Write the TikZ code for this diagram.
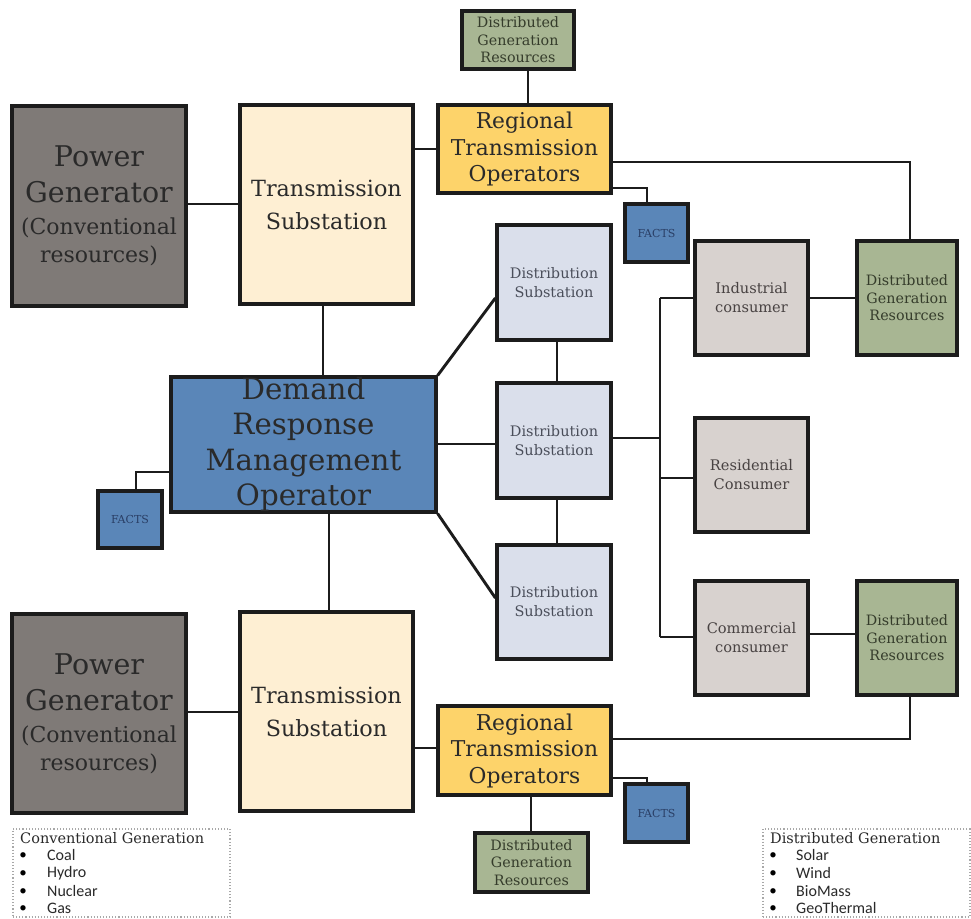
\documentclass[tikz,border=0pt]{standalone}
\usepackage{fontspec}
\setmainfont{DejaVu Serif}
\newfontfamily\carlito{Carlito}
\definecolor{pgfill}{HTML}{7F7A77}
\definecolor{tsfill}{HTML}{FEEFD3}
\definecolor{rtofill}{HTML}{FDD36A}
\definecolor{dgrfill}{HTML}{A8B693}
\definecolor{factsfill}{HTML}{5A86B8}
\definecolor{dsfill}{HTML}{DADFEB}
\definecolor{confill}{HTML}{D8D2CF}
\definecolor{edge}{HTML}{1C1C1C}
\definecolor{txtdark}{HTML}{2A2A2A}
\definecolor{txtds}{HTML}{4A4E5A}
\definecolor{txtcon}{HTML}{484242}
\definecolor{txtdgr}{HTML}{353C2B}
\definecolor{txtfacts}{HTML}{2A3F66}
\definecolor{legline}{HTML}{A8A8A8}
\newcommand{\pgbig}{\fontsize{28.5}{36}\selectfont}
\newcommand{\pgsmall}{\fontsize{22}{27}\selectfont}
\tikzset{
  box/.style={draw=edge, line width=3.2pt, inner sep=0pt, align=center, anchor=center},
  wire/.style={line width=2.9pt, draw=edge, line join=miter},
  pgbox/.style={box, fill=pgfill, text=txtdark, minimum width=174pt, minimum height=200pt},
  tsbox/.style={box, fill=tsfill, text=txtdark, minimum width=173pt, minimum height=199pt,
     font=\fontsize{22.3}{33}\selectfont},
  rtobox/.style={box, fill=rtofill, text=txtdark, minimum width=173pt, minimum height=88pt,
     font=\fontsize{21.8}{26.5}\selectfont},
  dgrbox/.style={box, fill=dgrfill, text=txtdgr, font=\fontsize{14.3}{17.5}\selectfont},
  factsbox/.style={box, fill=factsfill, text=txtfacts, minimum width=63pt, minimum height=58pt,
     font=\fontsize{11}{12}\selectfont},
  dsbox/.style={box, fill=dsfill, text=txtds, minimum width=114pt, minimum height=115pt,
     font=\fontsize{14.5}{19}\selectfont},
  conbox/.style={box, fill=confill, text=txtcon, minimum width=113pt, minimum height=114pt,
     font=\fontsize{14.6}{19}\selectfont},
  legbox/.style={draw=legline, line width=1.1pt, dotted, minimum width=217pt, minimum height=88pt, inner sep=0pt},
  legtitle/.style={anchor=west, inner sep=0pt, text=txtdark, font=\fontsize{14.5}{17}\selectfont},
  legitem/.style={anchor=west, inner sep=0pt, text=txtdark, font=\carlito\fontsize{16}{17}\selectfont},
  legbullet/.style={anchor=center, inner sep=0pt, text=black, font=\carlito\fontsize{15}{15}\selectfont},
}
\begin{document}
\begin{tikzpicture}[x=1pt,y=-1pt]
\useasboundingbox (0,0) rectangle (971,918);
\fill[white] (0,0) rectangle (971,918);

% upper part
\node[dgrbox, minimum width=112pt, minimum height=58pt] (dgrT) at (518,40) {Distributed\\Generation\\Resources};
\node[pgbox, font=\pgbig] (pg1) at (99,206) {Power\\Generator\\[-4pt]\pgsmall (Conventional\\[-8pt]\pgsmall resources)};
\node[tsbox] (ts1) at (326.5,204.5) {Transmission\\Substation};
\node[rtobox] (rto1) at (524.5,149) {Regional\\Transmission\\Operators};
\node[factsbox] (facts1) at (656.5,233) {FACTS};
\node[dsbox] (ds1) at (554,282.5) {Distribution\\Substation};
\node[conbox] (ind) at (751.5,298) {Industrial\\consumer};
\node[dgrbox, minimum width=100pt, minimum height=114pt] (dgrR1) at (907,298) {Distributed\\Generation\\Resources};

% middle
\node[box, fill=factsfill, text=txtdark, minimum width=265pt, minimum height=131pt,
  font=\fontsize{29.3}{35.5}\selectfont] (drmo) at (303.5,444.5) {Demand\\Response\\Management\\Operator};
\node[dsbox] (ds2) at (554,440.5) {Distribution\\Substation};
\node[conbox] (res) at (751.5,475) {Residential\\Consumer};
\node[factsbox, minimum width=64pt, minimum height=57pt] (factsL) at (130,519.5) {FACTS};
\node[dsbox, minimum height=114pt] (ds3) at (554,602) {Distribution\\Substation};
\node[conbox] (com) at (751.5,638) {Commercial\\consumer};
\node[dgrbox, minimum width=100pt, minimum height=114pt] (dgrR2) at (907,638) {Distributed\\Generation\\Resources};

% lower part
\node[pgbox, minimum height=199pt, font=\pgbig] (pg2) at (99,713.5) {Power\\Generator\\[-4pt]\pgsmall (Conventional\\[-8pt]\pgsmall resources)};
\node[tsbox] (ts2) at (326.5,711.5) {Transmission\\Substation};
\node[rtobox, minimum height=89pt] (rto2) at (524.5,750.5) {Regional\\Transmission\\Operators};
\node[factsbox] (facts2) at (656.5,813) {FACTS};
\node[dgrbox, minimum width=113pt, minimum height=59pt] (dgrB) at (531.5,862.5) {Distributed\\Generation\\Resources};

% connectors
\draw[wire] (pg1.east |- 0,204) -- (ts1.west |- 0,204);
\draw[wire] (ts1.east |- 0,149) -- (rto1.west |- 0,149);
\draw[wire] (dgrT.south -| 528,0) -- (rto1.north -| 528,0);
\coordinate (c1) at (910,162);
\draw[wire] (rto1.east |- c1) -- (c1) -- (c1 |- dgrR1.north);
\coordinate (c2) at (647,188);
\draw[wire] (rto1.east |- c2) -- (c2) -- (c2 |- facts1.north);
\draw[wire] (ts1.south -| 323,0) -- (drmo.north -| 323,0);
\draw[wire] (drmo.north east) -- (ds1.west |- 0,298);
\draw[wire] (drmo.east |- 0,444) -- (ds2.west |- 0,444);
\draw[wire] (drmo.south east) -- (ds3.west |- 0,598);
\draw[wire] (ds1.south -| 557,0) -- (ds2.north -| 557,0);
\draw[wire] (ds2.south -| 557,0) -- (ds3.north -| 557,0);
\coordinate (bt) at (660,298);
\coordinate (bm) at (660,438);
\coordinate (br) at (660,478);
\coordinate (bb) at (660,637);
\draw[wire] (ds2.east |- bm) -- (bm);
\draw[wire] (bt) -- (bb);
\draw[wire] (bt) -- (ind.west |- bt);
\draw[wire] (br) -- (res.west |- br);
\draw[wire] (bb) -- (com.west |- bb);
\draw[wire] (ind.east |- 0,298) -- (dgrR1.west |- 0,298);
\draw[wire] (com.east |- 0,634) -- (dgrR2.west |- 0,634);
\coordinate (c3) at (136,472);
\draw[wire] (drmo.west |- c3) -- (c3) -- (c3 |- factsL.north);
\draw[wire] (drmo.south -| 329,0) -- (ts2.north -| 329,0);
\draw[wire] (pg2.east |- 0,712) -- (ts2.west |- 0,712);
\draw[wire] (ts2.east |- 0,748) -- (rto2.west |- 0,748);
\coordinate (c4) at (910,739);
\draw[wire] (rto2.east |- c4) -- (c4) -- (c4 |- dgrR2.south);
\coordinate (c5) at (647,778);
\draw[wire] (rto2.east |- c5) -- (c5) -- (c5 |- facts2.north);
\draw[wire] (rto2.south -| 531,0) -- (dgrB.north -| 531,0);

% legends
\node[legbox] (legL) at (121.5,873) {};
\node[legtitle] (legLt) at (20,838) {Conventional Generation};
\node[legbullet] (legLb1) at (23,856) {•};
\node[legitem] (legL1) at (47,855) {Coal};
\node[legbullet] (legLb2) at (23,874) {•};
\node[legitem] (legL2) at (47,873) {Hydro};
\node[legbullet] (legLb3) at (23,892) {•};
\node[legitem] (legL3) at (47,891) {Nuclear};
\node[legbullet] (legLb4) at (23,909) {•};
\node[legitem] (legL4) at (47,908) {Gas};

\node[legbox, minimum width=207pt] (legR) at (866.5,873) {};
\node[legtitle] (legRt) at (770,838) {Distributed Generation};
\node[legbullet] (legRb1) at (773,856) {•};
\node[legitem] (legR1) at (796,855) {Solar};
\node[legbullet] (legRb2) at (773,874) {•};
\node[legitem] (legR2) at (796,873) {Wind};
\node[legbullet] (legRb3) at (773,892) {•};
\node[legitem] (legR3) at (796,891) {BioMass};
\node[legbullet] (legRb4) at (773,909) {•};
\node[legitem] (legR4) at (796,908) {GeoThermal};
\end{tikzpicture}
\end{document}
